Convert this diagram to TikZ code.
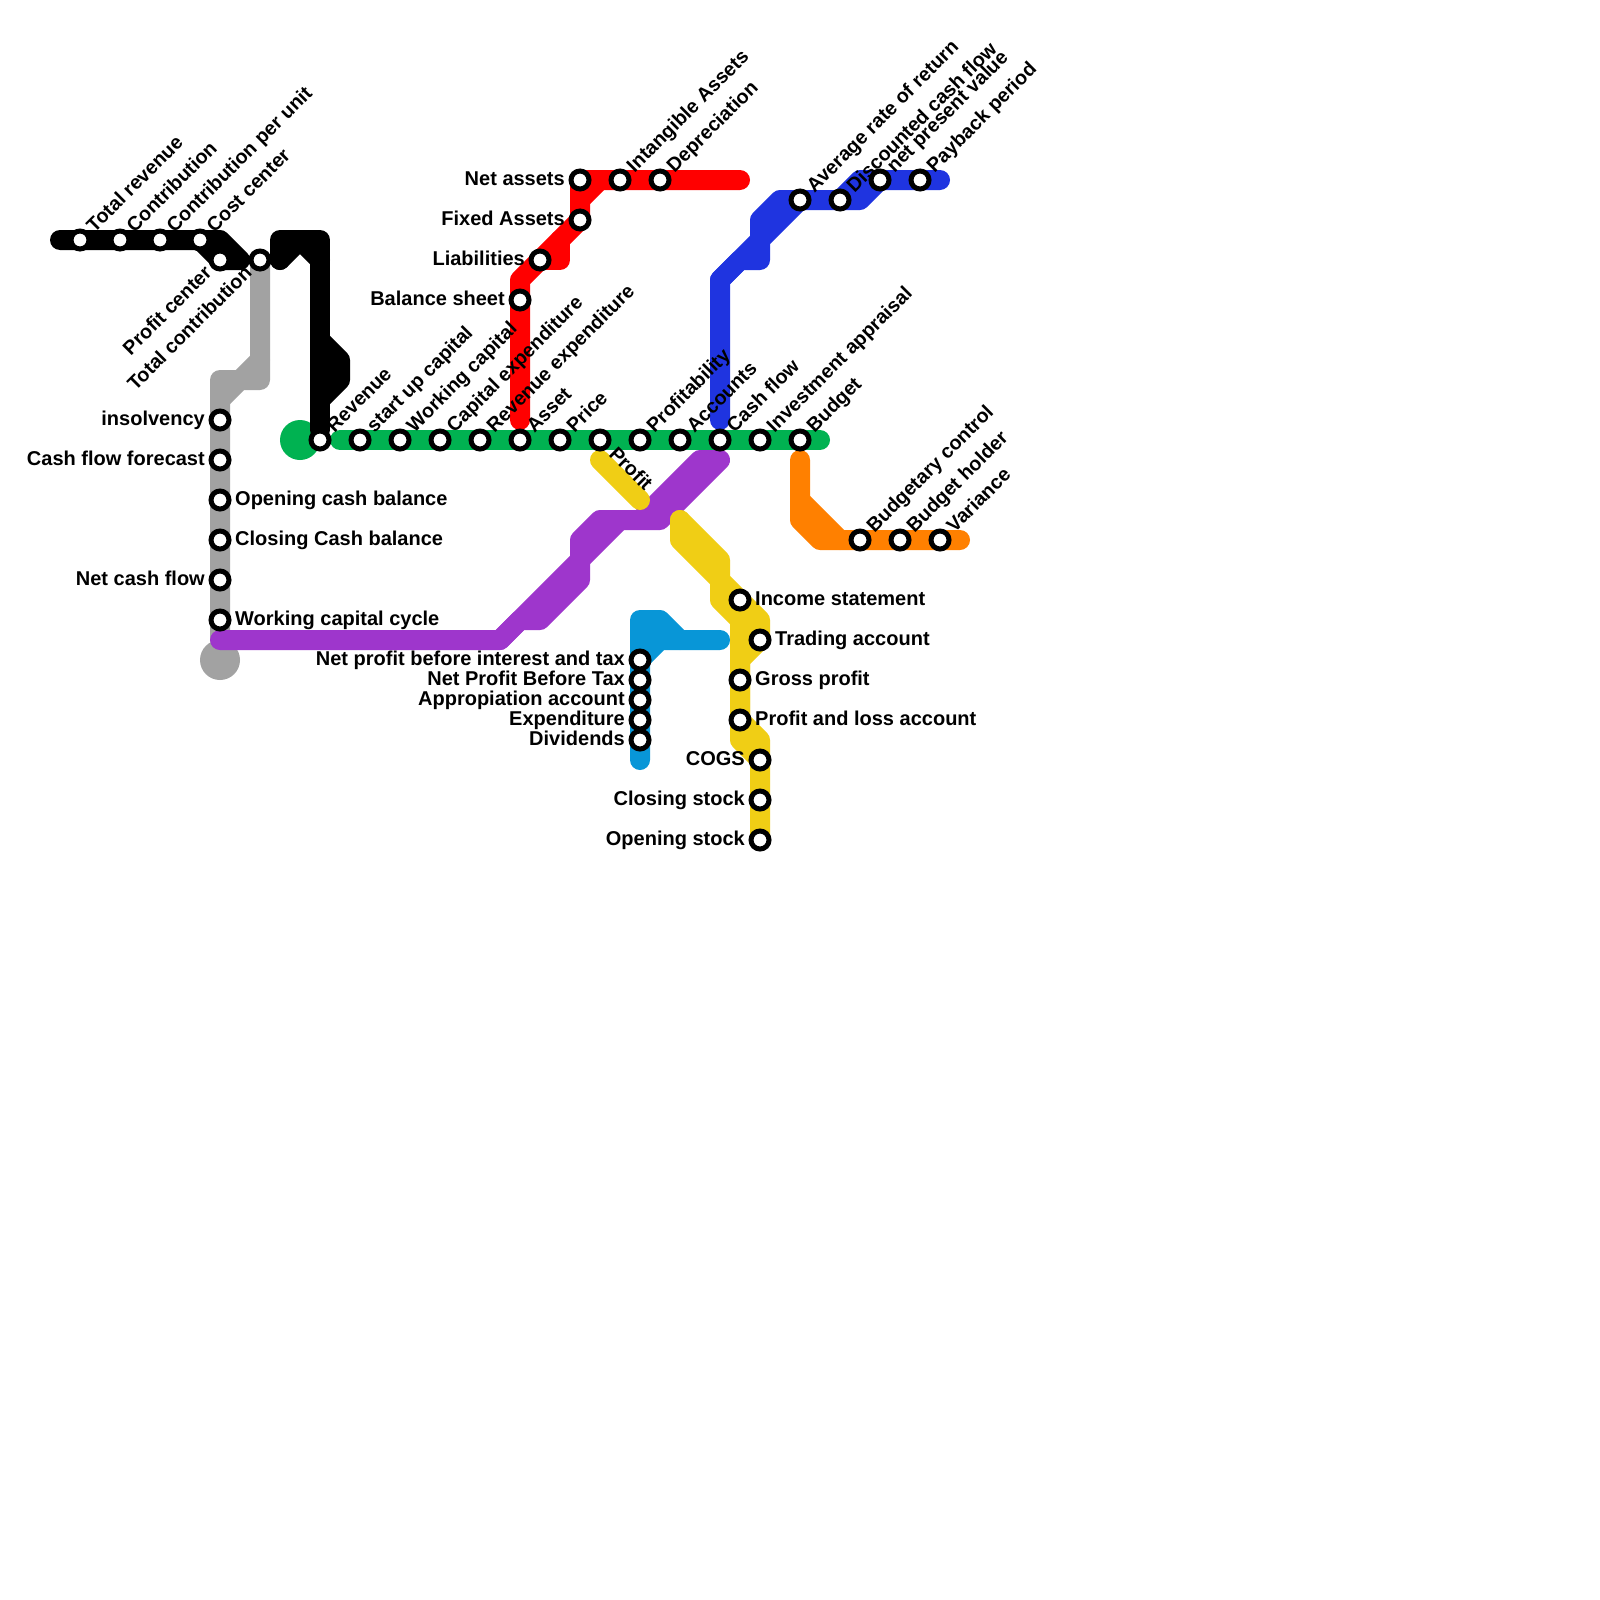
\documentclass[tikz,border=0pt]{standalone}
\usepackage{fontspec}
\setmainfont{Liberation Sans}
\definecolor{cblack}{HTML}{000000}
\definecolor{cgrey}{HTML}{A2A2A2}
\definecolor{cgreen}{HTML}{00B251}
\definecolor{cred}{HTML}{FF0000}
\definecolor{cblue}{HTML}{1F34E0}
\definecolor{cpurple}{HTML}{9E36CC}
\definecolor{cyellow}{HTML}{F0CE15}
\definecolor{corange}{HTML}{FF8000}
\definecolor{csky}{HTML}{0896D7}
\tikzset{
  route/.style={line width=20pt,line cap=round,line join=round},
  stn/.style={circle,draw=black,fill=white,line width=5pt,minimum size=18pt,inner sep=0pt},
  lbl/.style={inner sep=0pt,font=\bfseries\fontsize{20}{24}\selectfont,text=black},
  lblrot/.style={inner sep=0pt,font=\bfseries\fontsize{19.7}{24}\selectfont,text=black},
  lblE/.style={lbl,anchor=base west},
  lblW/.style={lbl,anchor=base east},
  lblUp/.style={lblrot,anchor=base west,rotate=45},
  lblDn/.style={lblrot,anchor=base east,rotate=45},
  lblDr/.style={lblrot,anchor=base west,rotate=-45},
}
% name, x, y, text
\newcommand{\stnUp}[4]{\node[stn] (#1) at (#2,#3) {};\node[lblUp] (#1t) at ([shift={(14.5,-6.5)}]#2,#3) {#4};}
\newcommand{\stnDn}[4]{\node[stn] (#1) at (#2,#3) {};\node[lblDn] (#1t) at ([shift={(-7,14)}]#2,#3) {#4};}
\newcommand{\stnDr}[4]{\node[stn] (#1) at (#2,#3) {};\node[lblDr] (#1t) at ([shift={(8,15)}]#2,#3) {#4};}
\newcommand{\stnR}[4]{\node[stn] (#1) at (#2,#3) {};\node[lblE] (#1t) at ([shift={(15,5)}]#2,#3) {#4};}
\newcommand{\stnL}[4]{\node[stn] (#1) at (#2,#3) {};\node[lblW] (#1t) at ([shift={(-15,5)}]#2,#3) {#4};}
\begin{document}
\begin{tikzpicture}[x=1pt,y=-1pt]
\useasboundingbox[fill=white] (0,0) rectangle (1600,1600);
% termini
\node[circle,fill=cgrey,minimum size=40pt,inner sep=0pt] (greyend) at (220,660) {};
\node[circle,fill=cgreen,minimum size=40pt,inner sep=0pt] (greenend) at (300,440) {};
% grey
\draw[route,cgrey] (260,260)--(260,380)--(240,380)--(220,400);
\draw[route,cgrey] (260,360)--(240,380)--(220,380)--(220,640);
% green
\draw[route,cgreen] (340,440)--(820,440);
% red
\draw[route,cred] (740,180)--(580,180)--(580,220)--(540,260)--(520,280)--(520,420);
\draw[route,cred] (600,180)--(580,200);
\draw[route,cred] (560,240)--(560,260)--(540,260);
% blue
\draw[route,cblue] (720,420)--(720,280)--(740,260)--(760,260)--(760,240)--(800,200)--(860,200)--(880,180)--(940,180);
\draw[route,cblue] (720,280)--(760,240)--(760,220)--(780,200)--(800,200);
\draw[route,cblue] (840,200)--(860,180)--(880,180);
% orange
\draw[route,corange] (800,460)--(800,520)--(820,540)--(960,540);
\draw[route,corange] (800,500)--(840,540);
% purple
\draw[route,cpurple] (220,640)--(500,640)--(520,620)--(540,620)--(580,580)--(580,540)--(600,520)--(660,520)--(720,460)--(700,460)--(640,520);
\draw[route,cpurple] (500,640)--(580,560)--(620,520);
% yellow
\draw[route,cyellow] (600,460)--(640,500);
\draw[route,cyellow] (680,520)--(720,560)--(720,580)--(760,620)--(760,640)--(740,660)--(740,720)--(760,740)--(760,840);
\draw[route,cyellow] (680,520)--(680,540)--(720,580)--(720,600)--(740,620)--(740,740)--(760,760);
% sky
\draw[route,csky] (640,760)--(640,620)--(660,620)--(680,640)--(720,640);
\draw[route,csky] (640,660)--(660,640)--(680,640);
\draw[route,csky] (640,630)--(660,630);
% black
\draw[route,cblack] (60,240)--(220,240)--(240,260)--(220,260)--(200,240);
\draw[route,cblack] (280,260)--(280,240)--(320,240)--(320,430);
\draw[route,cblack] (280,260)--(300,240)--(320,260);
\draw[route,cblack] (320,340)--(340,360)--(340,380)--(320,400);
% stations: black
\stnUp{a1}{80}{240}{Total revenue}
\stnUp{a2}{120}{240}{Contribution}
\stnUp{a3}{160}{240}{Contribution per unit}
\stnUp{a4}{200}{240}{Cost center}
\stnDn{a5}{220}{260}{Profit center}
\stnDn{a6}{260}{260}{Total contribution}
% grey
\stnL{g1}{220}{420}{insolvency}
\stnL{g2}{220}{460}{Cash flow forecast}
\stnR{g3}{220}{500}{Opening cash balance}
\stnR{g4}{220}{540}{Closing Cash balance}
\stnL{g5}{220}{580}{Net cash flow}
\stnR{g6}{220}{620}{Working capital cycle}
% green
\stnUp{b1}{320}{440}{Revenue}
\stnUp{b2}{360}{440}{start up capital}
\stnUp{b3}{400}{440}{Working capital}
\stnUp{b4}{440}{440}{Capital expenditure}
\stnUp{b5}{480}{440}{Revenue expenditure}
\stnUp{b6}{520}{440}{Asset}
\stnUp{b7}{560}{440}{Price}
\stnDr{b8}{600}{440}{Profit}
\stnUp{b9}{640}{440}{Profitability}
\stnUp{b10}{680}{440}{Accounts}
\stnUp{b11}{720}{440}{Cash flow}
\stnUp{b12}{760}{440}{Investment appraisal}
\stnUp{b13}{800}{440}{Budget}
% red
\stnL{r1}{580}{180}{Net assets}
\stnUp{r2}{620}{180}{Intangible Assets}
\stnUp{r3}{660}{180}{Depreciation}
\stnL{r4}{580}{220}{Fixed Assets}
\stnL{r5}{540}{260}{Liabilities}
\stnL{r6}{520}{300}{Balance sheet}
% blue
\stnUp{u1}{800}{200}{Average rate of return}
\stnUp{u2}{840}{200}{Discounted cash flow}
\stnUp{u3}{880}{180}{net present value}
\stnUp{u4}{920}{180}{Payback period}
% orange
\stnUp{o1}{860}{540}{Budgetary control}
\stnUp{o2}{900}{540}{Budget holder}
\stnUp{o3}{940}{540}{Variance}
% yellow
\stnR{y1}{740}{600}{Income statement}
\stnR{y2}{760}{640}{Trading account}
\stnR{y3}{740}{680}{Gross profit}
\stnR{y4}{740}{720}{Profit and loss account}
\stnL{y5}{760}{760}{COGS}
\stnL{y6}{760}{800}{Closing stock}
\stnL{y7}{760}{840}{Opening stock}
% sky
\stnL{s1}{640}{660}{Net profit before interest and tax}
\stnL{s2}{640}{680}{Net Profit Before Tax}
\stnL{s3}{640}{700}{Appropiation account}
\stnL{s4}{640}{720}{Expenditure}
\stnL{s5}{640}{740}{Dividends}
\end{tikzpicture}
\end{document}
